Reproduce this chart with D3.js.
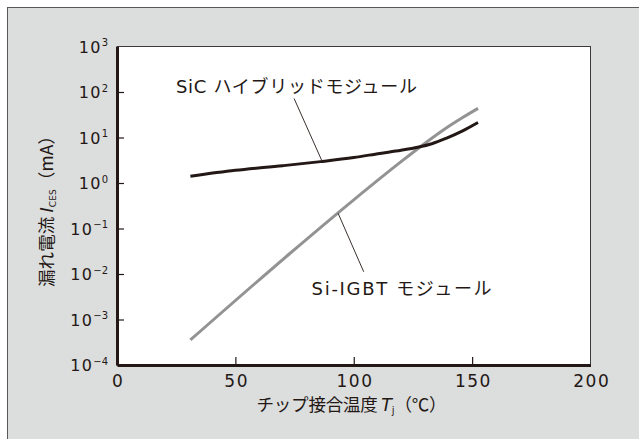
<!DOCTYPE html>
<html><head><meta charset="utf-8">
<script src="https://cdn.jsdelivr.net/npm/d3@7"></script>
<style>
html,body{margin:0;padding:0;background:#fff;}
svg{display:block;}
text{font-family:"DejaVu Sans","Noto Sans CJK JP",sans-serif;fill:#231815;}
</style></head>
<body>
<svg id="c" width="639" height="439"></svg>
<script>
// ---- data ----
const sicTemps = [31, 50, 70, 86, 100, 111, 120, 127, 133, 139, 146, 152.5];
const sicLeak  = [1.41, 1.9, 2.4, 2.95, 3.63, 4.47, 5.25, 6.1, 7.3, 9.6, 14.0, 21.4];
const igbtTemps = [31, 73, 100, 120, 130, 140, 146, 152.5];
const igbtLeak  = [3.55e-4, 0.0282, 0.427, 2.95, 7.4, 17.4, 27.5, 43.7];
const xTicks = [0, 50, 100, 150, 200];
const yExps  = [-4, -3, -2, -1, 0, 1, 2, 3];
const labels = [
  {text:"SiC ハイブリッドモジュール", t:24.9, v:93, len:241, from:[74.8, 72], to:[86.4, 3.2]},
  {text:"Si-IGBT モジュール", t:82.2, v:0.00347, len:180, from:[104.2, 0.0112], to:[93.4, 0.216]}
];

const svg = d3.select("#c");
const L = 117, R = 590.5, T = 46.5, B = 365;
const x = d3.scaleLinear().domain([0, 200]).range([L, R]);
const y = d3.scaleLog().domain([1e-4, 1e3]).range([B, T]);

// outer panel
svg.append("rect").attr("x", 7.5).attr("y", 7.5).attr("width", 650).attr("height", 450)
  .attr("fill", "#dcdddd").attr("stroke", "#5a5757").attr("stroke-width", 1);
// plot area
svg.append("rect").attr("x", L).attr("y", T).attr("width", R - L).attr("height", B - T)
  .attr("fill", "#fff").attr("stroke", "#3e3a39").attr("stroke-width", 1);

// axes
const yAxis = d3.axisLeft(y).tickValues(yExps.map(e => Math.pow(10, e)))
  .tickSize(-7).tickSizeOuter(0).tickPadding(0).tickFormat("");
const gy = svg.append("g").attr("transform", `translate(${L},0)`).call(yAxis);
gy.select(".domain").attr("stroke", "#231815").attr("stroke-width", 3);
gy.selectAll(".tick line").attr("stroke", "#231815").attr("stroke-width", 1.2)
  .filter(d => d <= 1e-4 || d >= 1e3).remove();
gy.selectAll(".tick text").remove();
gy.selectAll(".tick").each(function(d){
  const e = Math.round(Math.log10(d));
  const t = d3.select(this).append("text").attr("x", -9).attr("y", 5.5)
    .attr("text-anchor", "end").attr("font-size", 16).attr("fill", "#231815");
  t.append("tspan").attr("letter-spacing", 1.3).text("10");
  t.append("tspan").attr("font-size", 10).attr("dy", -6.5)
    .text(e < 0 ? "\u2212" + Math.abs(e) : String(e));
});

const xAxis = d3.axisBottom(x).tickValues(xTicks).tickSize(-8).tickSizeOuter(0)
  .tickPadding(0).tickFormat("");
const gx = svg.append("g").attr("transform", `translate(0,${B})`).call(xAxis);
gx.select(".domain").attr("stroke", "#231815").attr("stroke-width", 3);
gx.selectAll(".tick line").attr("stroke", "#231815").attr("stroke-width", 1.2)
  .filter(d => d === 0 || d === 200).remove();
gx.selectAll(".tick text").remove();
gx.selectAll(".tick").append("text").attr("y", 21.5).attr("text-anchor", "middle")
  .attr("font-size", 17).attr("letter-spacing", 1.5).attr("dx", 0.75)
  .attr("fill", "#231815").text(d => d);

// lines
const line = d3.line().x(d => x(d[0])).y(d => y(d[1])).curve(d3.curveMonotoneX);
svg.append("path").datum(igbtTemps.map((t, i) => [t, igbtLeak[i]]))
  .attr("d", line).attr("fill", "none").attr("stroke", "#939393").attr("stroke-width", 3);
svg.append("path").datum(sicTemps.map((t, i) => [t, sicLeak[i]]))
  .attr("d", line).attr("fill", "none").attr("stroke", "#231815").attr("stroke-width", 3);

// annotations
labels.forEach(a => {
  svg.append("line").attr("x1", x(a.from[0])).attr("y1", y(a.from[1]))
    .attr("x2", x(a.to[0])).attr("y2", y(a.to[1]))
    .attr("stroke", "#231815").attr("stroke-width", 0.9);
  svg.append("text").attr("x", x(a.t)).attr("y", y(a.v)).attr("font-size", 18)
    .attr("textLength", a.len).attr("lengthAdjust", "spacing").text(a.text);
});

// axis titles
const xt = svg.append("text").attr("x", 256.5).attr("y", 411).attr("font-size", 17.5)
  .attr("textLength", 190).attr("lengthAdjust", "spacing");
xt.append("tspan").attr("font-family", "Noto Sans CJK JP").text("チップ接合温度 ");
xt.append("tspan").attr("font-style", "italic").text("T");
xt.append("tspan").attr("font-size", 10).attr("dy", 3).text("j");
xt.append("tspan").attr("dy", -3).attr("font-family", "Noto Sans CJK JP").text("（℃）");

const yt = svg.append("text").attr("transform", "translate(53,207) rotate(-90)")
  .attr("text-anchor", "middle").attr("font-size", 17.5)
  .attr("textLength", 160).attr("lengthAdjust", "spacing");
yt.append("tspan").attr("font-family", "Noto Sans CJK JP").text("漏れ電流 ");
yt.append("tspan").attr("font-style", "italic").text("I");
yt.append("tspan").attr("font-size", 9).attr("dy", 3).text("CES");
yt.append("tspan").attr("dy", -3).attr("font-family", "Noto Sans CJK JP").text("（mA）");
</script>
</body></html>
